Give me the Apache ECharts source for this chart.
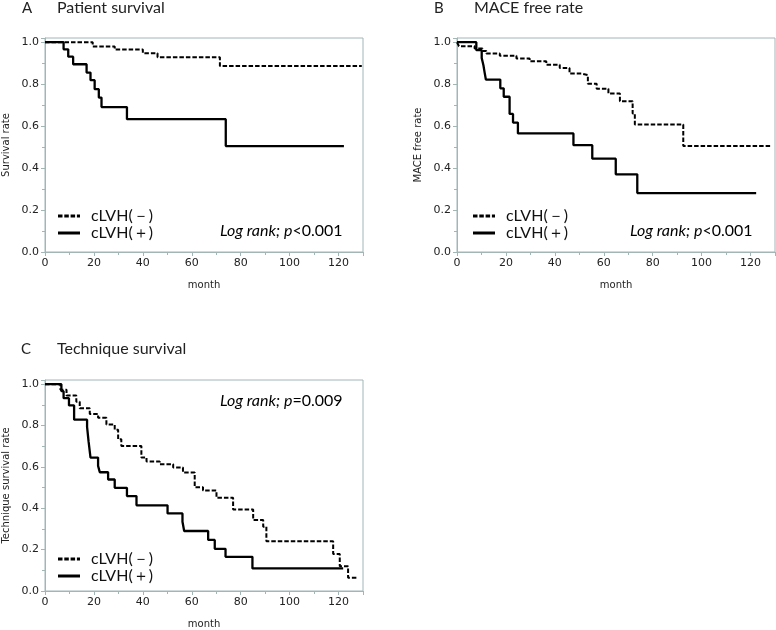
<!DOCTYPE html>
<html><head><meta charset="utf-8">
<script src="https://cdn.jsdelivr.net/npm/echarts@6/dist/echarts.min.js"></script>
<style>html,body{margin:0;padding:0;background:#fff}#c{width:776px;height:630px}</style>
</head><body><div id="c"></div>
<script>
const panelLetters = ['A', 'B', 'C'];
const panelTitles = ['Patient survival', 'MACE free rate', 'Technique survival'];
const yAxisNames = ['Survival rate', 'MACE free rate', 'Technique survival rate'];
const xAxisName = 'month';
const groupNames = ['cLVH(－)', 'cLVH(＋)'];
const pPrefix = 'Log rank; p';
const pValues = ['<0.001', '<0.001', '=0.009'];
const monthMax = 130;
const monthStep = 20;
const rateMax = 1.02;
const rateStep = 0.2;

// Kaplan-Meier steps: [month, rate after the step]
const survA_neg = [[0,1],[19.5,0.98],[28.5,0.965],[40,0.947],[46,0.928],[71.5,0.886],[129.5,0.886]];
const survA_pos = [[0,1],[7.6,0.966],[9.5,0.931],[11.5,0.895],[17,0.855],[18.6,0.819],[20.3,0.776],[22,0.736],[23.1,0.691],[33.5,0.633],[73.9,0.505],[122.2,0.505]];

const survB_neg = [[0,1],[0.8,0.981],[7.2,0.97],[10.4,0.958],[12,0.946],[17.5,0.935],[24.3,0.922],[29.7,0.909],[36.5,0.893],[42,0.877],[46,0.851],[50.8,0.843],[53.5,0.802],[57.1,0.778],[61.9,0.755],[66.6,0.719],[71.8,0.66],[72.7,0.608],[92.5,0.505],[128.6,0.505]];
const survB_pos = [[0,1],[7.9,0.962],[10.1,0.925],[10.8,0.89],[11.3,0.855],[11.8,0.822],[17.7,0.78],[19.1,0.74],[21.5,0.658],[22.9,0.617],[24.9,0.565],[47.6,0.509],[55.3,0.445],[64.9,0.37],[73.7,0.281],[122.3,0.281]];

const survC_neg = [[0,1],[6.3,0.973],[8.8,0.945],[12.8,0.915],[14.2,0.884],[18.3,0.856],[21.7,0.837],[25.1,0.805],[28.5,0.78],[29.9,0.733],[31.2,0.701],[39.4,0.645],[41.5,0.626],[46.9,0.613],[52.4,0.597],[56.4,0.573],[61.2,0.502],[64.6,0.486],[70.1,0.451],[76.9,0.394],[85.1,0.343],[89.2,0.311],[90.5,0.24],[117.8,0.179],[120.5,0.12],[123.9,0.064],[128,0.064]];
const survC_pos = [[0,1],[6.7,0.966],[7.6,0.932],[9.8,0.897],[11.9,0.828],[17.2,0.793],[17.8,0.724],[18.6,0.645],[21.7,0.605],[22.4,0.574],[25.8,0.539],[28.5,0.499],[33.5,0.459],[37.4,0.414],[50.1,0.375],[56.2,0.335],[56.9,0.29],[66.7,0.247],[69.4,0.204],[73.8,0.165],[84.8,0.109],[121.9,0.109]];

const negSeries = [survA_neg, survB_neg, survC_neg];
const posSeries = [survA_pos, survB_pos, survC_pos];

const axisColor = '#a3b6b6';
const grids = [
  {left: 45, top: 38, width: 318, height: 214},
  {left: 457, top: 38, width: 318, height: 214},
  {left: 45, top: 380, width: 318, height: 214}
];
const letterPos = [[22, 1], [434, 1], [21, 342]];
const titlePos = [[57, 0], [474, 0], [57, 341]];
const legendPos = [[58, 208], [473, 208], [58, 551]];
const pPos = [[220, 223], [630, 223], [220, 393]];

const dashIcon = 'path://M0,0h4.5v3h-4.5z M6.3,0h4.5v3h-4.5z M12.6,0h4.5v3h-4.5z M18.9,0h3.1v3h-3.1z';
const solidIcon = 'path://M0,0h22v3h-22z';

const chart = echarts.init(document.getElementById('c'));
const xAxes = [], yAxes = [], series = [], titles = [], legends = [];
const txt = '#222';
for (let i = 0; i < 3; i++) {
  xAxes.push({
    gridIndex: i, type: 'value', min: 0, max: monthMax, interval: monthStep,
    name: xAxisName, nameLocation: 'middle', nameGap: 28,
    nameTextStyle: {fontFamily: 'DejaVu Sans', fontSize: 10, color: txt},
    axisLine: {show: true, lineStyle: {color: axisColor, width: 1}},
    axisTick: {show: true, length: 4, inside: false, lineStyle: {color: axisColor}},
    minorTick: {show: true, splitNumber: 2, length: 3, lineStyle: {color: axisColor}},
    axisLabel: {fontFamily: 'DejaVu Sans', fontSize: 11, color: txt, margin: 6, showMaxLabel: false},
    splitLine: {show: false}
  });
  yAxes.push({
    gridIndex: i, type: 'value', min: 0, max: rateMax, interval: rateStep,
    name: yAxisNames[i], nameLocation: 'middle', nameGap: 34,
    nameTextStyle: {fontFamily: 'DejaVu Sans', fontSize: 10, color: txt},
    axisLine: {show: true, lineStyle: {color: axisColor, width: 1}},
    axisTick: {show: true, length: 4, lineStyle: {color: axisColor}},
    minorTick: {show: true, splitNumber: 2, length: 3, lineStyle: {color: axisColor}},
    axisLabel: {fontFamily: 'DejaVu Sans', fontSize: 11, color: txt, margin: 6, showMaxLabel: false,
      formatter: v => v.toFixed(1)},
    splitLine: {show: false}
  });
  series.push({
    name: groupNames[0], type: 'line', xAxisIndex: i, yAxisIndex: i, step: 'end',
    symbol: 'none', data: negSeries[i], color: '#000',
    lineStyle: {color: '#000', width: 2, type: [4.5, 2]}
  });
  series.push({
    name: groupNames[1], type: 'line', xAxisIndex: i, yAxisIndex: i, step: 'end',
    symbol: 'none', data: posSeries[i], color: '#000',
    lineStyle: {color: '#000', width: 2.3, type: 'solid'}
  });
  titles.push({text: panelLetters[i], left: letterPos[i][0], top: letterPos[i][1], padding: 0,
    textStyle: {fontFamily: 'Lato', fontSize: 15, fontWeight: 'normal', color: txt}});
  titles.push({text: panelTitles[i], left: titlePos[i][0], top: titlePos[i][1], padding: 0,
    textStyle: {fontFamily: 'Lato', fontSize: 16, fontWeight: 'normal', color: txt}});
  titles.push({text: '{it|' + pPrefix + '}{n|' + pValues[i] + '}', left: pPos[i][0], top: pPos[i][1], padding: 0,
    textStyle: {fontWeight: 'normal', rich: {
      it: {fontFamily: 'Lato', fontStyle: 'italic', fontWeight: 'normal', fontSize: 16, color: '#000'},
      n: {fontFamily: 'Lato', fontWeight: 'normal', fontSize: 16, color: '#000'}
    }}});
  legends.push({
    left: legendPos[i][0], top: legendPos[i][1], orient: 'vertical',
    itemWidth: 22, itemHeight: 3, itemGap: 1, padding: 0,
    selectedMode: false,
    itemStyle: {color: '#000', borderWidth: 0},
    data: [{name: groupNames[0], icon: dashIcon}, {name: groupNames[1], icon: solidIcon}],
    textStyle: {fontFamily: 'Lato', fontSize: 16, color: '#111', padding: [0, 0, 0, 6]}
  });
}
chart.setOption({
  animation: false,
  backgroundColor: '#fff',
  title: titles,
  legend: legends,
  grid: grids.map(g => Object.assign({show: true, borderColor: axisColor, borderWidth: 1, backgroundColor: 'transparent'}, g)),
  xAxis: xAxes,
  yAxis: yAxes,
  series: series
});
</script></body></html>
